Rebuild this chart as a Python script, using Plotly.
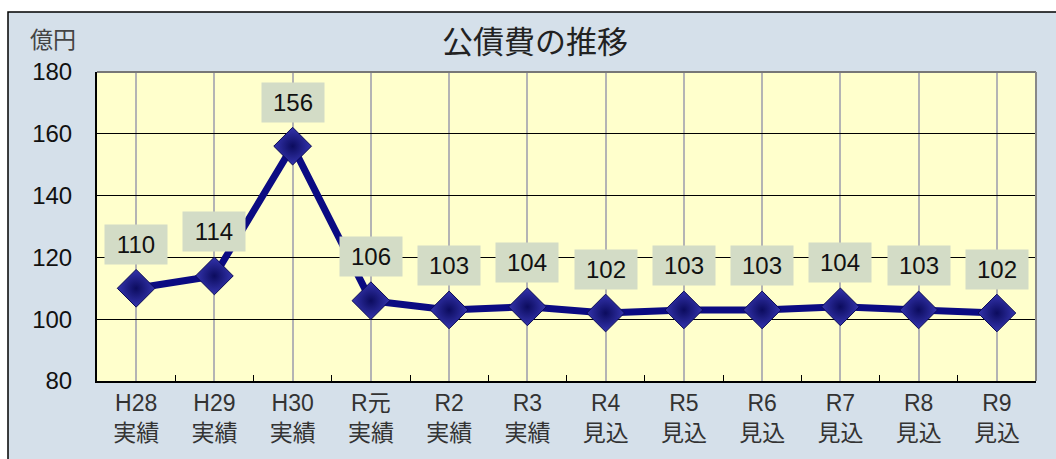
import plotly.graph_objects as go

categories = ["H28<br>実績", "H29<br>実績", "H30<br>実績", "R元<br>実績", "R2<br>実績", "R3<br>実績",
              "R4<br>見込", "R5<br>見込", "R6<br>見込", "R7<br>見込", "R8<br>見込", "R9<br>見込"]
values = [110, 114, 156, 106, 103, 104, 102, 103, 103, 104, 103, 102]
y_ticks = [80, 100, 120, 140, 160, 180]

W, H = 1056, 459
L, R, T, B = 97, 20, 72, 78
pw, ph = W - L - R, H - T - B
FONT = "Liberation Sans, Arial, Noto Sans CJK JP, sans-serif"

xs = list(range(len(values)))

fig = go.Figure()
fig.add_trace(go.Scatter(
    x=xs, y=values, mode="lines+markers",
    line=dict(color="#0b0b82", width=7),
    marker=dict(symbol="diamond", size=29, color="#3434ae",
                gradient=dict(type="radial", color="#0c0c5e"),
                line=dict(color="#0a0a55", width=1)),
    hoverinfo="skip", showlegend=False,
))

for x, v in zip(xs, values):
    fig.add_annotation(x=x, y=v, text=str(v), showarrow=False, yshift=44,
                       bgcolor="#d3dcc6", width=60, height=37,
                       font=dict(family=FONT, size=24, color="#111111"))

def px_x(p):
    return (p - L) / pw

def px_y(p):
    return 1 - (p - T) / ph

shapes = [
    dict(type="rect", xref="paper", yref="paper", x0=px_x(8), x1=px_x(1070),
         y0=px_y(470), y1=px_y(12), fillcolor="#d5e0ea",
         line=dict(color="black", width=1.5), layer="below"),
    dict(type="rect", xref="x domain", yref="y domain", x0=0, x1=1, y0=0, y1=1,
         fillcolor="#ffffcc", line=dict(width=0), layer="below"),
    dict(type="line", xref="x domain", yref="y domain", x0=0, x1=1, y0=1, y1=1,
         line=dict(color="#777777", width=2), layer="above"),
    dict(type="line", xref="x domain", yref="y domain", x0=1, x1=1, y0=0, y1=1,
         line=dict(color="#888888", width=2), layer="above"),
]

fig.update_layout(
    width=W, height=H,
    margin=dict(l=L, r=R, t=T, b=B),
    paper_bgcolor="white", plot_bgcolor="rgba(0,0,0,0)",
    shapes=shapes,
    font=dict(family=FONT),
    xaxis=dict(range=[-0.5, len(values) - 0.5], tickvals=xs, ticktext=categories,
               showgrid=True, gridcolor="#b4b4b4", gridwidth=2,
               zeroline=False, showline=True, linecolor="black", linewidth=2,
               ticks="", tickfont=dict(family=FONT, size=23, color="#333333"),
               minor=dict(tickvals=[i + 0.5 for i in xs[:-1]], ticks="inside",
                          ticklen=6, tickcolor="black", tickwidth=1, showgrid=False),
               fixedrange=True),
    yaxis=dict(range=[80, 180], tickvals=y_ticks, showgrid=True,
               gridcolor="black", gridwidth=1, zeroline=False,
               showline=True, linecolor="black", linewidth=2, ticks="",
               ticklabelstandoff=18,
               tickfont=dict(family=FONT, size=24, color="#111111"),
               fixedrange=True),
)

fig.add_annotation(xref="paper", yref="paper", x=px_x(535), y=px_y(39),
                   xanchor="center", yanchor="middle",
                   text="公債費の推移", showarrow=False,
                   font=dict(family="Noto Sans CJK JP", size=31, color="#222222"))
fig.add_annotation(xref="paper", yref="paper", x=px_x(53), y=px_y(38),
                   xanchor="center", yanchor="middle",
                   text="億円", showarrow=False,
                   font=dict(family="Noto Sans CJK JP", size=23, color="#444444"))

fig.write_html("out.html")
